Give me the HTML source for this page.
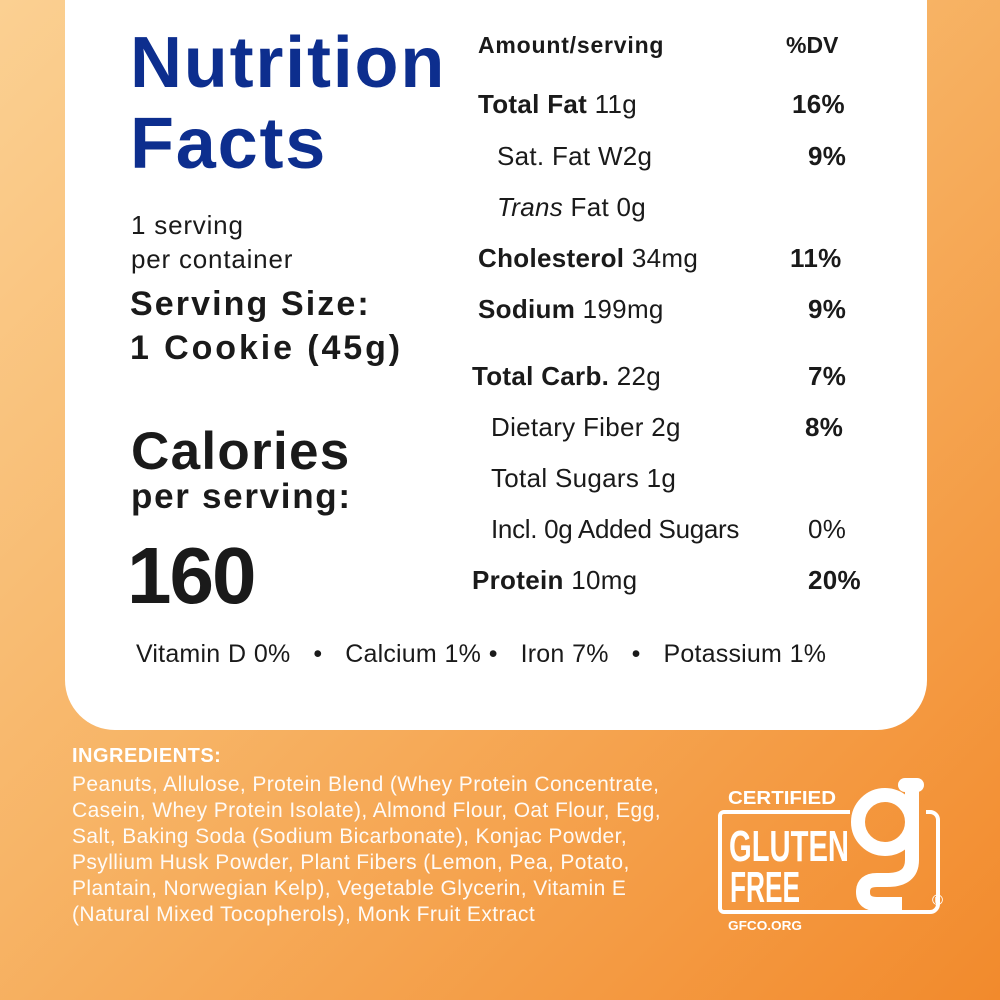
<!DOCTYPE html>
<html><head><style>
*{margin:0;padding:0}
body{width:1000px;height:1000px;overflow:hidden;position:relative;font-family:"Liberation Sans",sans-serif;
background:linear-gradient(135deg,#fbd092 0%,#f7b466 45%,#f28a2c 100%);}
.card{position:absolute;left:65px;top:-10px;width:862px;height:740px;background:#fff;border-radius:0 0 50px 50px;}
.t{position:absolute;white-space:nowrap;color:#1a1a1a;}
.b{font-weight:bold}
.nav{color:#0d2e8e;font-weight:bold;font-size:72px;letter-spacing:1.8px}
.r{font-size:26px;letter-spacing:0.3px}
.w{color:#fff}
</style></head><body>
<div class="card"></div>
<div class="t nav" style="left:130px;top:22px">Nutrition</div>
<div class="t nav" style="left:130px;top:103px">Facts</div>
<div class="t" style="left:131px;top:210px;font-size:26px;letter-spacing:0.8px">1 serving</div>
<div class="t" style="left:131px;top:244px;font-size:26px;letter-spacing:0.8px">per container</div>
<div class="t b" style="left:130px;top:285px;font-size:34px;letter-spacing:2.1px">Serving Size:</div>
<div class="t b" style="left:130px;top:329px;font-size:34px;letter-spacing:2.9px">1 Cookie (45g)</div>
<div class="t b" style="left:131px;top:421px;font-size:53px;letter-spacing:1.3px">Calories</div>
<div class="t b" style="left:131px;top:477px;font-size:35px;letter-spacing:1.7px">per serving:</div>
<div class="t b" style="left:127px;top:530px;font-size:80px;letter-spacing:-2px">160</div>

<div class="t b" style="left:478px;top:32px;font-size:23px;letter-spacing:0.8px">Amount/serving</div>
<div class="t b" style="left:786px;top:32px;font-size:23px">%DV</div>

<div class="t r" style="left:478px;top:89px"><b>Total Fat</b> 11g</div>
<div class="t r b" style="left:792px;top:89px">16%</div>
<div class="t r" style="left:497px;top:141px">Sat. Fat  W2g</div>
<div class="t r b" style="left:808px;top:141px">9%</div>
<div class="t r" style="left:497px;top:192px"><i>Trans</i> Fat 0g</div>
<div class="t r" style="left:478px;top:243px"><b>Cholesterol</b> 34mg</div>
<div class="t r b" style="left:790px;top:243px">11%</div>
<div class="t r" style="left:478px;top:294px"><b>Sodium</b> 199mg</div>
<div class="t r b" style="left:808px;top:294px">9%</div>
<div class="t r" style="left:472px;top:361px"><b>Total Carb.</b> 22g</div>
<div class="t r b" style="left:808px;top:361px">7%</div>
<div class="t r" style="left:491px;top:412px">Dietary Fiber 2g</div>
<div class="t r b" style="left:805px;top:412px">8%</div>
<div class="t r" style="left:491px;top:463px">Total Sugars 1g</div>
<div class="t r" style="left:491px;top:514px;letter-spacing:-0.3px">Incl. 0g Added Sugars</div>
<div class="t r" style="left:808px;top:514px">0%</div>
<div class="t r" style="left:472px;top:565px"><b>Protein</b> 10mg</div>
<div class="t r b" style="left:808px;top:565px">20%</div>

<div class="t" style="left:136px;top:640px;font-size:25px;letter-spacing:0.2px;word-spacing:0.5px">Vitamin D 0% &nbsp;&nbsp;•&nbsp;&nbsp; Calcium 1% • &nbsp;&nbsp;Iron 7% &nbsp;&nbsp;•&nbsp;&nbsp; Potassium 1%</div>

<div class="t w b" style="left:72px;top:745px;font-size:20px;letter-spacing:0.5px">INGREDIENTS:</div>
<div class="t w" style="left:72px;top:772px;font-size:21px;line-height:26px;letter-spacing:0.4px;opacity:.95">Peanuts, Allulose, Protein Blend (Whey Protein Concentrate,<br>Casein, Whey Protein Isolate), Almond Flour, Oat Flour, Egg,<br>Salt, Baking Soda (Sodium Bicarbonate), Konjac Powder,<br>Psyllium Husk Powder, Plant Fibers (Lemon, Pea, Potato,<br>Plantain, Norwegian Kelp), Vegetable Glycerin, Vitamin E<br>(Natural Mixed Tocopherols), Monk Fruit Extract</div>

<svg style="position:absolute;left:700px;top:760px" width="260" height="180" viewBox="0 0 260 180">
<text x="28" y="44" fill="#fff" font-family="Liberation Sans" font-weight="bold" font-size="18" textLength="108" lengthAdjust="spacingAndGlyphs">CERTIFIED</text>
<path d="M150 52 H24 a4 4 0 0 0 -4 4 V148 a4 4 0 0 0 4 4 H230 a8 8 0 0 0 8 -8 V60 a8 8 0 0 0 -8 -8 H226" fill="none" stroke="#fff" stroke-width="4"/>
<text x="29" y="101" fill="#fff" font-family="Liberation Sans" font-weight="bold" font-size="44" textLength="120" lengthAdjust="spacingAndGlyphs">GLUTEN</text>
<text x="30" y="142" fill="#fff" font-family="Liberation Sans" font-weight="bold" font-size="44" textLength="70" lengthAdjust="spacingAndGlyphs">FREE</text>
<circle cx="185" cy="62" r="27" fill="none" stroke="#fff" stroke-width="14"/>
<path d="M212 30 V100 q0 20 -25 20 h-10 q-14 0 -14 12 q0 12 14 12 h25" fill="none" stroke="#fff" stroke-width="14"/>
<path d="M205 25 h12" stroke="#fff" stroke-width="14" stroke-linecap="round"/>
<text x="232" y="145" fill="#fff" font-family="Liberation Sans" font-weight="bold" font-size="15">®</text>
<text x="28" y="170" fill="#fff" font-family="Liberation Sans" font-weight="bold" font-size="13" textLength="74" lengthAdjust="spacingAndGlyphs">GFCO.ORG</text>
</svg>
</body></html>
